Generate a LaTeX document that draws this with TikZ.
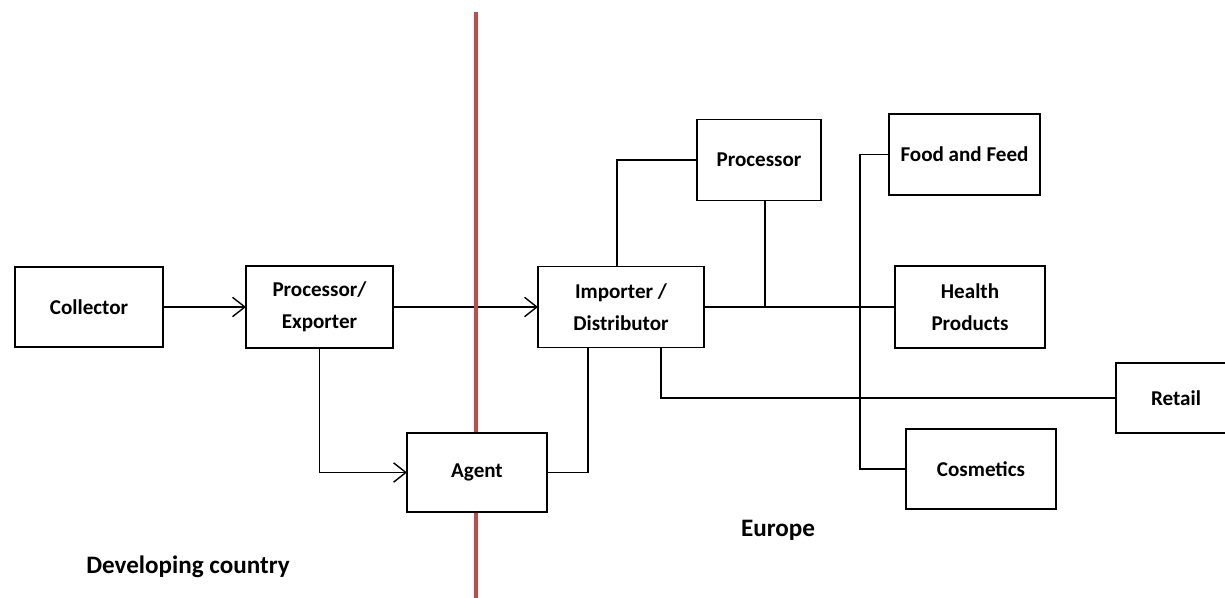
\documentclass[tikz,border=0pt]{standalone}
\usepackage{fontspec}
\setmainfont{Carlito}
\usepackage{xcolor}
\usepackage{tikz}
\usetikzlibrary{positioning, arrows.meta, backgrounds}
\definecolor{divider}{RGB}{196,74,74}

\begin{document}
\begin{tikzpicture}[
    node distance=1.5cm,
    block/.style={rectangle, draw, fill=white, line width=1.1pt, outer sep=0pt, align=center, minimum width=3cm, minimum height=1.6cm, font=\bfseries\fontsize{12}{18}\selectfont},
    link/.style={line width=0.8pt},
    arrow/.style={line width=0.8pt, -{Straight Barb[length=7pt, width=11pt, line width=0.8pt]}},
    caption/.style={font=\bfseries\fontsize{14.3}{17}\selectfont}
    ]
    \useasboundingbox (0,0) rectangle (24.5,-11.96);

    % developing country side
    \node[block, minimum width=2.96cm] (collector) at (1.78,-6.14) {Collector};
    \node[block, minimum width=2.94cm, minimum height=1.64cm] (procexp) [right=1.66cm of collector] {Processor/\\Exporter};
    \node[block, minimum width=2.8cm, minimum height=1.58cm] (agent) [below right=1.7cm and 0.28cm of procexp] {Agent};

    % europe side
    \node[block, minimum width=3.32cm, minimum height=1.62cm] (importer) [right=2.9cm of procexp] {Importer /\\Distributor};
    \node[block, minimum width=2.48cm, minimum height=1.62cm] (processor) [above right=1.32cm and -0.14cm of importer] {Processor};
    \node[block, minimum height=1.64cm] (health) [right=3.82cm of importer] {Health\\Products};
    \node[block, minimum width=3.02cm, minimum height=1.62cm] (food) [above=1.42cm of health, xshift=-0.11cm] {Food and Feed};
    \node[block] (cosmetics) [below=1.62cm of health, xshift=0.22cm] {Cosmetics};
    \node[block, minimum width=2.4cm, minimum height=1.4cm] (retail) [below right=0.3cm and 1.42cm of health] {Retail};

    % region labels
    \node[caption] (devlabel) at (3.76,-11.34) {Developing country};
    \node[caption] (eulabel) at (15.56,-10.6) {Europe};

    \begin{scope}[on background layer]
    % connectors
    \draw[arrow] (collector) -- (procexp);
    \draw[arrow] (procexp) -- (importer);
    \draw[arrow] (procexp.south) |- (agent);
    \draw[link] (agent.east) -| ([xshift=-0.66cm]importer.south);
    \draw[link] ([xshift=-0.08cm]importer.north) |- (processor.west);
    \draw[link] (importer) -- (health);
    \draw[link] ([xshift=0.12cm]processor.south) -- ([xshift=0.12cm]processor.south |- importer.east);
    \draw[link] ([xshift=0.8cm]importer.south) |- (retail.west);
    \draw[link] (food.west) -- ++(-0.58cm,0) |- (cosmetics.west);

    % dividing line
    \coordinate (divtop) at (9.52,-0.24);
    \coordinate (divbot) at (9.52,-11.96);
    \draw[divider, line width=2.2pt] (divtop) -- (divbot);
    \end{scope}

  \end{tikzpicture}
\end{document}
